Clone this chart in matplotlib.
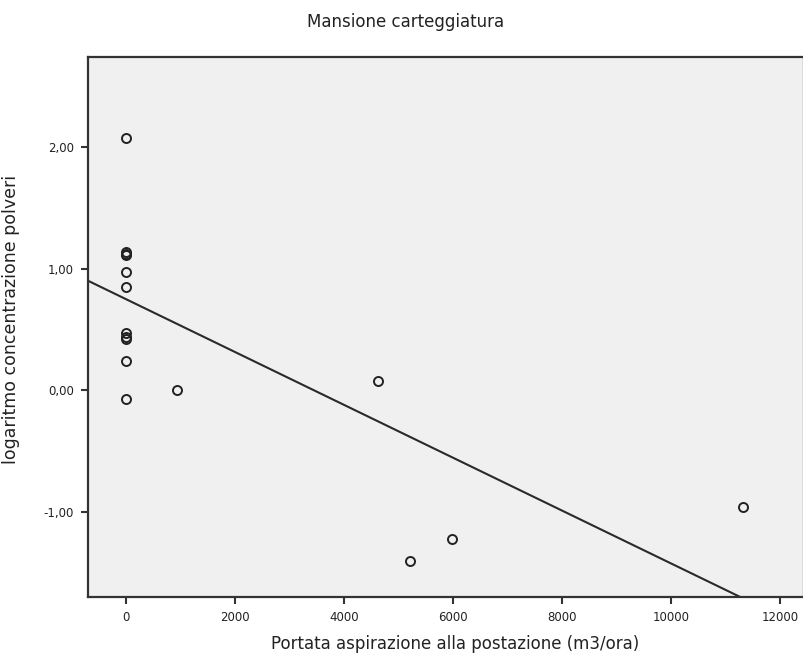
import matplotlib
matplotlib.use("Agg")
import matplotlib.pyplot as plt
import numpy as np

# Data
portata = [0, 0, 0, 0, 0, 0, 0, 0, 0, 0, 0, 936, 4624, 5211, 5982, 11321]
log_conc = [2.07, 1.14, 1.12, 1.11, 0.97, 0.85, 0.47, 0.44, 0.42, 0.24, -0.07,
            0.00, 0.08, -1.40, -1.22, -0.96]
fit_intercept = 0.749
fit_slope = -0.0002173
x_ticks = [0, 2000, 4000, 6000, 8000, 10000, 12000]
y_ticks = [-1.0, 0.0, 1.0, 2.0]
y_tick_labels = ["-1,00", "0,00", "1,00", "2,00"]

fig = plt.figure(figsize=(8.04, 6.57), dpi=100)
ax = fig.add_axes([88 / 804, (657 - 597) / 657, (804 - 88) / 804, 540 / 657])
ax.set_facecolor("#f0f0f0")

xlim = (-697, 12440)
ylim = (-1.70, 2.74)

# regression line
xl = np.array(xlim, dtype=float)
ax.plot(xl, fit_intercept + fit_slope * xl, color="#2a2a2a", lw=1.5, zorder=2)

ax.plot(portata, log_conc, linestyle="none", marker="o", markersize=6.5,
        markerfacecolor="none", markeredgecolor="#222222", markeredgewidth=1.4, zorder=3)

ax.set_xlim(*xlim)
ax.set_ylim(*ylim)
ax.set_xticks(x_ticks)
ax.set_xticklabels([str(v) for v in x_ticks])
ax.set_yticks(y_ticks)
ax.set_yticklabels(y_tick_labels)
ax.tick_params(axis="both", direction="out", length=5, width=1.5, color="#333333",
               labelsize=8.5, labelcolor="#222222", pad=5)

for s in ax.spines.values():
    s.set_color("#333333")
    s.set_linewidth(1.6)

fig.text(455 / 804, 1 - 644 / 657, "Portata aspirazione alla postazione (m3/ora)",
         ha="center", va="center", fontsize=12, color="#222222")
fig.text(11 / 804, 1 - 319 / 657, "logaritmo concentrazione polveri", rotation=90,
         ha="center", va="center", fontsize=12.5, color="#222222")
fig.text(406 / 804, 1 - 22 / 657, "Mansione carteggiatura", ha="center", va="center",
         fontsize=12, color="#222222")

fig.savefig("out.png", dpi=100, facecolor="white")
